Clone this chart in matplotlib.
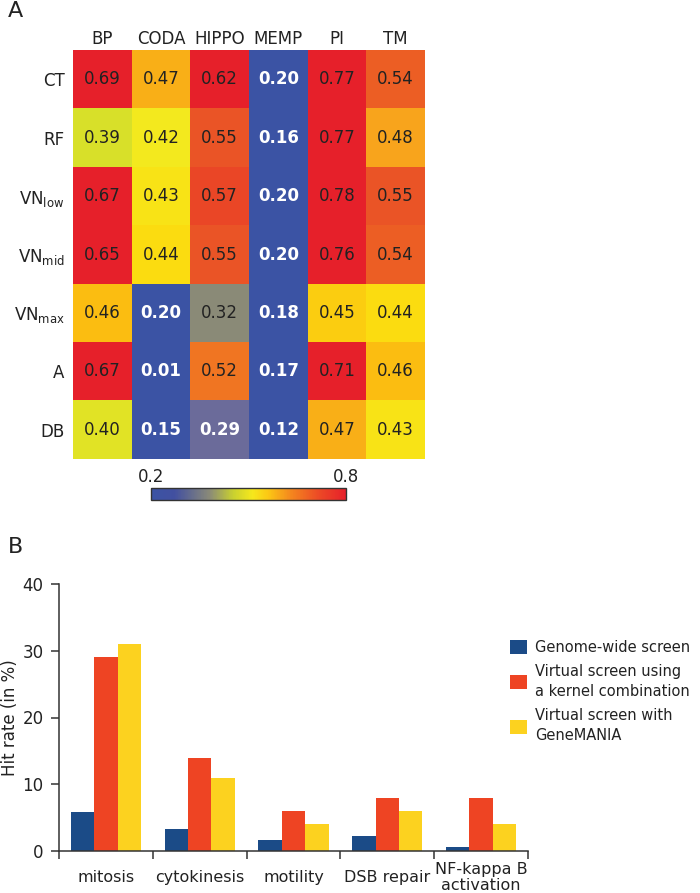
import numpy as np
import matplotlib.pyplot as plt
from matplotlib.colors import LinearSegmentedColormap, Normalize
from matplotlib.cm import ScalarMappable

# Panel A data
datasets = ['BP', 'CODA', 'HIPPO', 'MEMP', 'PI', 'TM']
kernels = ['CT', 'RF', r'VN$_{\mathregular{low}}$', r'VN$_{\mathregular{mid}}$',
           r'VN$_{\mathregular{max}}$', 'A', 'DB']
scores = [[0.69, 0.47, 0.62, 0.20, 0.77, 0.54],
          [0.39, 0.42, 0.55, 0.16, 0.77, 0.48],
          [0.67, 0.43, 0.57, 0.20, 0.78, 0.55],
          [0.65, 0.44, 0.55, 0.20, 0.76, 0.54],
          [0.46, 0.20, 0.32, 0.18, 0.45, 0.44],
          [0.67, 0.01, 0.52, 0.17, 0.71, 0.46],
          [0.40, 0.15, 0.29, 0.12, 0.47, 0.43]]

# Panel B data
processes = ['mitosis', 'cytokinesis', 'motility', 'DSB repair', 'NF-kappa B\nactivation']
genome_wide = [5.8, 3.3, 1.6, 2.25, 0.6]
kernel_comb = [29, 14, 6, 8, 8]
genemania = [31, 11, 4, 6, 4]
series_names = ['Genome-wide screen', 'Virtual screen using\na kernel combination',
                'Virtual screen with\nGeneMANIA']

txt = '#222222'
plt.rcParams['font.family'] = 'DejaVu Sans'
plt.rcParams['text.color'] = txt
plt.rcParams['axes.labelcolor'] = txt
plt.rcParams['xtick.color'] = txt
plt.rcParams['ytick.color'] = txt

# colours for the cells (value space) and for the colour bar
vmin, vmax = 0.2, 0.8
nodes = [(0.20, '#3b53a4'), (0.21, '#3b53a4'), (0.29, '#6c6c9a'), (0.32, '#8a8a78'),
         (0.39, '#d8e02a'), (0.42, '#f5ea1e'), (0.44, '#fbdd10'), (0.46, '#fbbc12'),
         (0.48, '#f9a51c'), (0.52, '#f07622'), (0.55, '#eb5526'), (0.57, '#ea4626'),
         (0.62, '#e6202a'), (0.80, '#e6202a')]
cell_cmap = LinearSegmentedColormap.from_list(
    'cells', [((v - vmin) / (vmax - vmin), c) for v, c in nodes])
cbar_cmap = LinearSegmentedColormap.from_list(
    'bar', [(0.0, '#3b53a4'), (0.12, '#4250a0'), (0.3, '#8a8a78'), (0.42, '#c8d030'),
            (0.52, '#f6e81c'), (0.6, '#fcc814'), (0.72, '#f4861e'), (0.86, '#ec4a26'),
            (1.0, '#e6202a')])

fig = plt.figure(figsize=(7, 8.93), dpi=100)

# ---- A: heatmap
ax = fig.add_axes([73/700, 1-459/893, 352/700, 409/893])
data = np.array(scores)
ax.imshow(np.clip(data, vmin, vmax), cmap=cell_cmap, vmin=vmin, vmax=vmax, aspect='auto',
          interpolation='nearest')
for i in range(len(kernels)):
    for j in range(len(datasets)):
        v = data[i, j]
        low = v < 0.3
        ax.text(j, i, '%.2f' % v, ha='center', va='center', fontsize=12,
                color='white' if low else txt, fontweight='bold' if low else 'normal')
ax.set_xticks(range(len(datasets)))
ax.set_xticklabels(datasets, fontsize=12)
ax.set_yticks(range(len(kernels)))
ax.set_yticklabels(kernels, fontsize=12)
ax.xaxis.tick_top()
ax.tick_params(length=0)
ax.tick_params(axis='x', pad=1.5)
ax.tick_params(axis='y', pad=6)
for s in ax.spines.values():
    s.set_visible(False)

cax = fig.add_axes([151/700, 1-500/893, 195/700, 12/893])
cb = fig.colorbar(ScalarMappable(norm=Normalize(vmin, vmax), cmap=cbar_cmap), cax=cax,
                  orientation='horizontal', ticks=[0.2, 0.8])
cb.ax.xaxis.set_ticks_position('top')
cb.ax.set_xticklabels(['0.2', '0.8'], fontsize=12)
cb.ax.tick_params(length=0, pad=1.5)
cb.outline.set_edgecolor('#333333')
cb.outline.set_linewidth(1)

fig.text(8/700, 1-11/893, 'A', fontsize=16, ha='left', va='center')
fig.text(8/700, 1-547/893, 'B', fontsize=16, ha='left', va='center')

# ---- B: bar chart
bx = fig.add_axes([59/700, 1-851/893, 469/700, 267/893])
x = np.arange(len(processes))
w = 0.25
bx.bar(x - w, genome_wide, w, color='#1b4b87', label=series_names[0])
bx.bar(x, kernel_comb, w, color='#ee4423', label=series_names[1])
bx.bar(x + w, genemania, w, color='#fcd21f', label=series_names[2])
bx.set_xlim(-0.5, len(processes) - 0.5)
bx.set_ylim(0, 40)
bx.set_yticks([0, 10, 20, 30, 40])
bx.set_xticks(x)
bx.set_xticklabels(processes, fontsize=11.5, linespacing=1.05)
for lab in bx.get_xticklabels():
    lab.set_va('center')
bx.set_xticks(np.arange(-0.5, len(processes), 1), minor=True)
bx.tick_params(axis='x', which='major', length=0, pad=19)
bx.tick_params(axis='x', which='minor', length=6, width=1.1, color='#333333')
bx.tick_params(axis='y', length=6, width=1.1, color='#333333', labelsize=12, pad=5)
for s in ['top', 'right']:
    bx.spines[s].set_visible(False)
for s in ['left', 'bottom']:
    bx.spines[s].set_color('#333333')
    bx.spines[s].set_linewidth(1.1)
bx.set_ylabel('Hit rate (in %)', fontsize=12)
bx.yaxis.set_label_coords(-0.086, 0.5)

leg = fig.legend(loc='upper left', bbox_to_anchor=(510/700, 1-640/893), frameon=False,
                 fontsize=10.5, handlelength=1.15, handleheight=1.1, handletextpad=0.55,
                 labelspacing=0.6, borderpad=0, borderaxespad=0)
for t in leg.get_texts():
    t.set_linespacing(1.45)

fig.savefig('out.png', dpi=100)
